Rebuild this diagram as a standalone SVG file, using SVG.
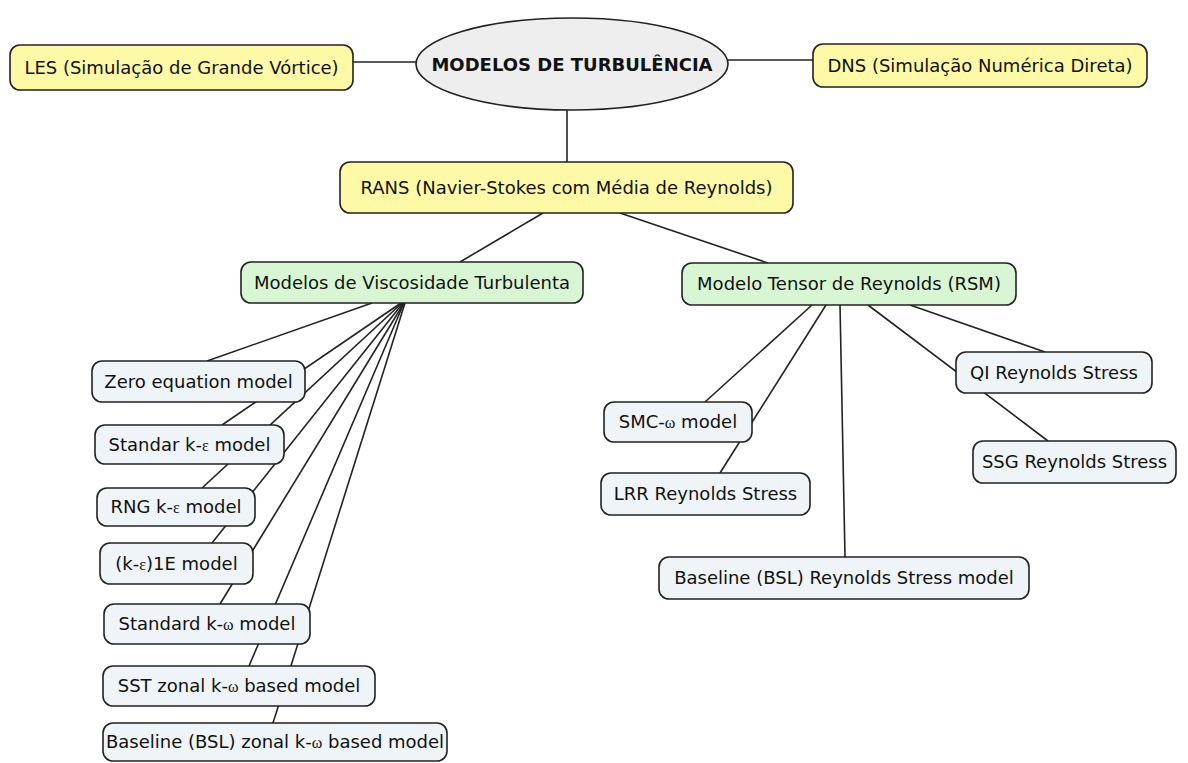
<svg xmlns="http://www.w3.org/2000/svg" width="1188" height="763" viewBox="0 0 1188 763">
<style>
.box{stroke:#222;stroke-width:1.6}
.y{fill:#FDF9A6}
.g{fill:#D8F6D4}
.c{fill:#EEF4F7}
.el{fill:#EEEEEE;stroke:#222;stroke-width:1.6}
text{font-family:"DejaVu Sans","Liberation Sans",sans-serif;font-size:18px;fill:#111;text-anchor:middle}
.b{font-weight:bold}
.gr{font-family:"Liberation Serif",serif;font-size:16px}
#connectors line{stroke:#222;stroke-width:1.6}
</style>
<rect width="1188" height="763" fill="#FFFFFF"/>
<g id="connectors">
<line x1="353" y1="62" x2="416" y2="62"/>
<line x1="728" y1="60" x2="813" y2="60"/>
<line x1="567" y1="110" x2="567" y2="162"/>
<line x1="543" y1="213" x2="460" y2="262"/>
<line x1="620" y1="213" x2="768" y2="263"/>
<line x1="372" y1="303" x2="207" y2="361"/>
<line x1="401" y1="303" x2="222" y2="425"/>
<line x1="402" y1="303" x2="202" y2="488"/>
<line x1="403" y1="303" x2="212" y2="543"/>
<line x1="404" y1="303" x2="220" y2="604"/>
<line x1="404" y1="303" x2="249" y2="666"/>
<line x1="405" y1="303" x2="273" y2="723"/>
<line x1="812" y1="305" x2="705" y2="402"/>
<line x1="826" y1="305" x2="720" y2="473"/>
<line x1="840" y1="305" x2="845" y2="557"/>
<line x1="868" y1="305" x2="1048" y2="441"/>
<line x1="910" y1="305" x2="1045" y2="352"/>
</g>
<g id="n-les"><rect class="box y" x="10" y="45" width="343" height="45" rx="10"/><text x="181.5" y="74">LES (Simulação de Grande Vórtice)</text></g>
<g id="n-root"><ellipse class="el" cx="572" cy="64" rx="156" ry="46"/><text class="b" x="572" y="71">MODELOS DE TURBULÊNCIA</text></g>
<g id="n-dns"><rect class="box y" x="813" y="44" width="334" height="43" rx="10"/><text x="980" y="72">DNS (Simulação Numérica Direta)</text></g>
<g id="n-rans"><rect class="box y" x="340" y="162" width="453" height="51" rx="10"/><text x="566.5" y="194">RANS (Navier-Stokes com Média de Reynolds)</text></g>
<g id="n-visc"><rect class="box g" x="241" y="262" width="342" height="41" rx="10"/><text x="412" y="289">Modelos de Viscosidade Turbulenta</text></g>
<g id="n-rsm"><rect class="box g" x="682" y="263" width="334" height="42" rx="10"/><text x="849" y="290">Modelo Tensor de Reynolds (RSM)</text></g>
<g id="n-zero"><rect class="box c" x="92" y="361" width="213" height="41" rx="10"/><text x="198.5" y="388">Zero equation model</text></g>
<g id="n-stdke"><rect class="box c" x="95" y="425" width="189" height="39" rx="10"/><text x="189.5" y="451">Standar k-<tspan class="gr">ε</tspan> model</text></g>
<g id="n-rng"><rect class="box c" x="97" y="488" width="158" height="38" rx="10"/><text x="176" y="513">RNG k-<tspan class="gr">ε</tspan> model</text></g>
<g id="n-ke1e"><rect class="box c" x="100" y="543" width="153" height="41" rx="10"/><text x="176.5" y="570">(k-<tspan class="gr">ε</tspan>)1E model</text></g>
<g id="n-stdkw"><rect class="box c" x="104" y="604" width="206" height="40" rx="10"/><text x="207" y="630">Standard k-<tspan class="gr">ω</tspan> model</text></g>
<g id="n-sst"><rect class="box c" x="103" y="666" width="272" height="40" rx="10"/><text x="239" y="692">SST zonal k-<tspan class="gr">ω</tspan> based model</text></g>
<g id="n-bslz"><rect class="box c" x="103" y="723" width="344" height="38" rx="10"/><text x="275" y="748">Baseline (BSL) zonal k-<tspan class="gr">ω</tspan> based model</text></g>
<g id="n-smc"><rect class="box c" x="604" y="402" width="148" height="40" rx="10"/><text x="678" y="428">SMC-<tspan class="gr">ω</tspan> model</text></g>
<g id="n-lrr"><rect class="box c" x="601" y="473" width="209" height="42" rx="10"/><text x="705.5" y="500">LRR Reynolds Stress</text></g>
<g id="n-bslr"><rect class="box c" x="659" y="557" width="370" height="42" rx="10"/><text x="844" y="584">Baseline (BSL) Reynolds Stress model</text></g>
<g id="n-qi"><rect class="box c" x="956" y="352" width="196" height="41" rx="10"/><text x="1054" y="379">QI Reynolds Stress</text></g>
<g id="n-ssg"><rect class="box c" x="973" y="441" width="203" height="42" rx="10"/><text x="1074.5" y="468">SSG Reynolds Stress</text></g>
</svg>
